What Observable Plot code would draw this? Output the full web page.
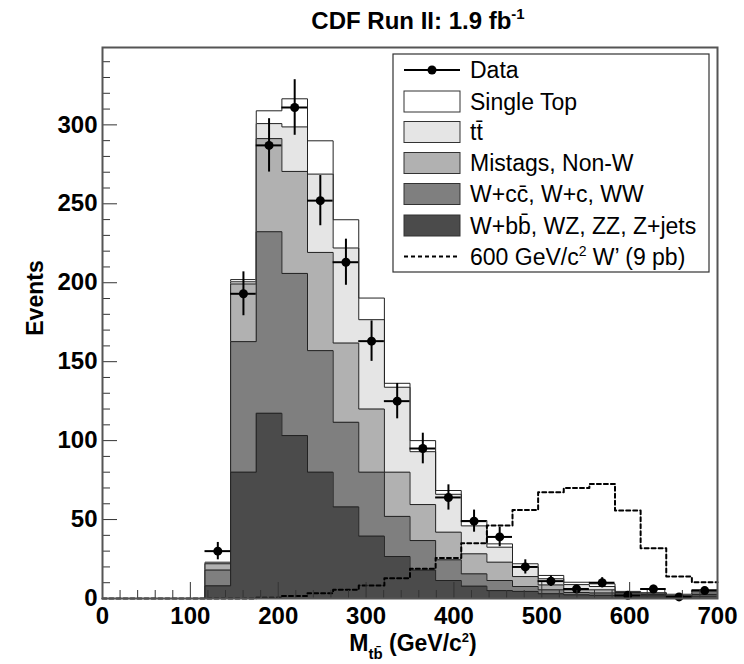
<!DOCTYPE html>
<html><head><meta charset="utf-8">
<script src="https://cdn.jsdelivr.net/npm/d3@7"></script>
<script src="https://cdn.jsdelivr.net/npm/@observablehq/plot@0.6"></script>
<style>
body{margin:0;background:#fff;}
#chart{width:744px;height:664px;}
svg text{font-family:"Liberation Sans",Arial,Helvetica,sans-serif;}
</style></head><body><div id="chart"></div>
<script>
// ---- histogram definition ----
const xMin = 0, xMax = 700, nBins = 24;

// ---- data (events per bin) ----
const dataCounts = [0,0,0,0,30,193,287,311,252,213,163,125,95,64,49,39,20,11,6,10,2,6,1,5];
const dataErrors = [0,0,0,0,5.5,13.9,16.9,17.6,15.9,14.6,12.8,11.2,9.7,8,7,6.2,4.5,3.3,2.4,3.2,1.4,2.4,1,2.2];

// ---- background components (per bin, not stacked) ----
const wbb       = [0,0,0,0,8,80,117.3,103.2,80,58,39.5,26.6,18,11.4,7.8,5,4.5,3,2.3,2,1,1,0.8,1.5];
const wcc       = [0,0,0,0,10,82.7,115,102.7,77,53.6,40.5,25.4,18.7,13.1,7.8,6.4,3.1,2.5,1.5,1.5,1,0.8,0.7,1];
const mistags   = [0,0,0,0,4,36.5,59,64.6,62.2,50.2,40,28,22.8,17.5,12.7,11.6,6.3,3.1,1.7,2,1,0.7,0.5,1];
const ttbar     = [0,0,0,0,0.5,1.4,9.5,28.2,49.6,60.2,56.6,53.8,33.5,24,17.7,9.5,6.1,3.9,3.3,2.1,0.8,0.8,0.4,1.3];
const singleTop = [0,0,0,0,0.5,1.4,8.1,17.8,21.1,17.9,13.7,2.5,7,2.4,3.4,2.1,2,2.1,1.5,1.7,0.7,0.5,0.3,0.7];

// ---- 600 GeV/c^2 W' signal ----
const wprime = [0,0,0,0,0,0,0.5,1.6,3.4,5.5,8.2,12.9,18.8,25.7,35,46.2,56.1,67.3,70,72.6,55.7,31.9,13.9,10.3];

const layerNames  = ["W+bb\u0304, WZ, ZZ, Z+jets", "W+cc\u0304, W+c, WW", "Mistags, Non-W", "tt\u0304", "Single Top"];
const layerColors = ["#4b4b4b", "#7f7f7f", "#b1b1b1", "#e5e5e5", "#ffffff"];

const yMajor = [0,50,100,150,200,250,300];
const xMajor = [0,100,200,300,400,500,600,700];

// ---- derived ----
const bw = (xMax - xMin) / nBins;
const lo = i => xMin + i * bw;
const comps = [wbb, wcc, mistags, ttbar, singleTop];
const cum = [];
let run = new Array(nBins).fill(0);
comps.forEach(c => { run = run.map((v, i) => v + c[i]); cum.push(run.slice()); });
const stepPts = arr => arr.flatMap((v, i) => [{x: lo(i), y: v}, {x: lo(i) + bw, y: v}]);
const dataPts = dataCounts.map((v, i) => ({lo: lo(i), hi: lo(i) + bw, c: lo(i) + bw / 2, v, e: dataErrors[i]})).filter(d => d.v > 0);
const yMinor = d3.range(0, 350, 10).filter(v => v % 50 !== 0);
const xMinor = d3.range(0, 701, 20).filter(v => v % 100 !== 0);

const marks = [];
for (let k = comps.length - 1; k >= 0; k--) {
  const pts = stepPts(cum[k]);
  marks.push(Plot.areaY(pts, {x: "x", y1: 0, y2: "y", fill: layerColors[k]}));
  marks.push(Plot.lineY(pts, {x: "x", y: "y", stroke: "#222", strokeWidth: 1}));
}
marks.push(Plot.lineY(stepPts(wprime), {x: "x", y: "y", stroke: "#000", strokeWidth: 2, strokeDasharray: "4,3"}));
marks.push(Plot.ruleY(dataPts, {y: "v", x1: "lo", x2: "hi", stroke: "#000", strokeWidth: 2}));
marks.push(Plot.ruleX(dataPts, {x: "c", y1: d => d.v - d.e, y2: d => d.v + d.e, stroke: "#000", strokeWidth: 2}));
marks.push(Plot.dot(dataPts, {x: "c", y: "v", r: 4.5, fill: "#000"}));
// axes: inward ticks + bold labels
marks.push(Plot.axisY(yMajor, {tickSize: -15, stroke: "#333", tickFormat: () => "", label: null}));
marks.push(Plot.axisY(yMinor, {tickSize: -8, stroke: "#333", tickFormat: () => "", label: null}));
marks.push(Plot.axisY(yMajor, {tickSize: 0, tickPadding: 5, fontSize: 24, fontWeight: "bold", fill: "#000", label: null}));
marks.push(Plot.axisX(xMajor, {tickSize: -16, stroke: "#333", tickFormat: () => "", label: null}));
marks.push(Plot.axisX(xMinor, {tickSize: -8, stroke: "#333", tickFormat: () => "", label: null}));
marks.push(Plot.axisX(xMajor, {tickSize: 0, tickPadding: 8, fontSize: 24, fontWeight: "bold", fill: "#000", label: null}));
marks.push(Plot.frame({stroke: "#555", strokeWidth: 2}));

const svgEl = Plot.plot({
  width: 744, height: 664,
  marginLeft: 102, marginRight: 27, marginTop: 47, marginBottom: 66,
  x: {domain: [xMin, xMax]},
  y: {domain: [0, 349]},
  style: {background: "#fff", fontFamily: "'Liberation Sans', Arial, sans-serif", color: "#000"},
  marks
});
document.getElementById("chart").appendChild(svgEl);

// ---- titles and legend ----
const svg = d3.select(svgEl);
const ff = "'Liberation Sans', Arial, sans-serif";
const t = svg.append("text").attr("x", 418).attr("y", 29).attr("text-anchor", "middle")
  .attr("font-size", 24).attr("font-weight", "bold").attr("font-family", ff).attr("fill", "#000");
t.append("tspan").text("CDF Run II: 1.9 fb");
t.append("tspan").attr("font-size", 15).attr("dy", -10).text("-1");

const xt = svg.append("text").attr("x", 413).attr("y", 651).attr("text-anchor", "middle")
  .attr("font-size", 23).attr("font-weight", "bold").attr("font-family", ff).attr("fill", "#000");
xt.append("tspan").text("M");
xt.append("tspan").attr("font-size", 15).attr("dy", 8).text("tb\u0304");
xt.append("tspan").attr("dy", -8).text(" (GeV/c");
xt.append("tspan").attr("font-size", 13).attr("dy", -9).text("2");
xt.append("tspan").attr("dy", 9).text(")");

svg.append("text").attr("transform", "translate(43,298) rotate(-90)").attr("text-anchor", "middle")
  .attr("font-size", 23).attr("font-weight", "bold").attr("font-family", ff).attr("fill", "#000").text("Events");

const lg = svg.append("g");
lg.append("rect").attr("x", 393).attr("y", 54).attr("width", 316).attr("height", 218)
  .attr("fill", "#fff").attr("stroke", "#333").attr("stroke-width", 1.2);
const rowY = [70, 101.5, 132, 163, 194, 225.5, 256.5];
const legendItems = [{type: "data", label: "Data"}]
  .concat([4, 3, 2, 1, 0].map(k => ({type: "box", label: layerNames[k], color: layerColors[k]})))
  .concat([{type: "dash", label: "600 GeV/c\u00B2 W\u2019 (9 pb)"}]);
legendItems.forEach((it, i) => {
  const cy = rowY[i];
  if (it.type === "data") {
    lg.append("line").attr("x1", 404).attr("x2", 460).attr("y1", cy).attr("y2", cy).attr("stroke", "#000").attr("stroke-width", 2);
    lg.append("circle").attr("cx", 432).attr("cy", cy).attr("r", 4.5).attr("fill", "#000");
  } else if (it.type === "box") {
    lg.append("rect").attr("x", 404).attr("y", cy - 10.5).attr("width", 56).attr("height", 21)
      .attr("fill", it.color).attr("stroke", "#333").attr("stroke-width", 1);
  } else {
    lg.append("line").attr("x1", 404).attr("x2", 460).attr("y1", cy).attr("y2", cy).attr("stroke", "#000")
      .attr("stroke-width", 2).attr("stroke-dasharray", "4,3");
  }
  const tx = lg.append("text").attr("x", 470).attr("y", cy + 8).attr("text-anchor", "start")
    .attr("font-size", 23).attr("font-family", ff).attr("fill", "#000");
  if (it.type === "dash") {
    tx.append("tspan").text("600 GeV/c");
    tx.append("tspan").attr("font-size", 14).attr("dy", -9).text("2");
    tx.append("tspan").attr("dy", 9).text(" W\u2019 (9 pb)");
  } else {
    tx.text(it.label);
  }
});
</script></body></html>
